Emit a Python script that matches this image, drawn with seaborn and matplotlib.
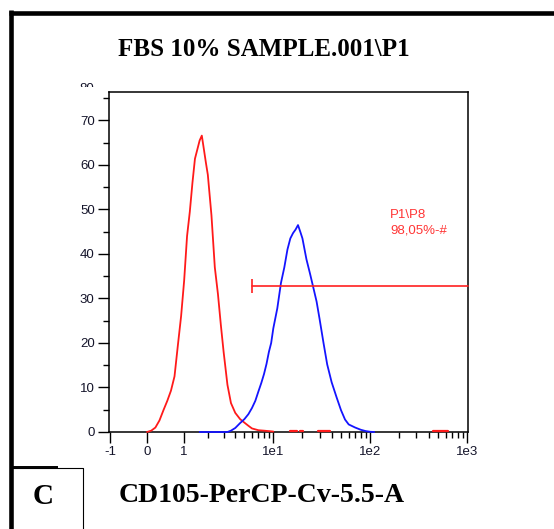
import matplotlib
matplotlib.use('Agg')
import matplotlib.pyplot as plt
import pandas as pd
import seaborn as sns
from matplotlib.lines import Line2D
from matplotlib.ticker import NullFormatter
from matplotlib.transforms import Bbox, TransformedBbox

# unstained control (red) and CD105 stained sample (blue), counts per channel
red_x = [0, 0.1, 0.2, 0.3, 0.4, 0.5, 0.6, 0.7, 0.8, 0.9, 1.0, 1.1, 1.2, 1.3, 1.4,
         1.5, 1.6, 1.7, 1.8, 1.9, 2.0, 2.2, 2.4, 2.6, 2.8, 3.0, 3.3, 3.6, 4.0, 4.5,
         5.0, 5.5, 6.0, 7.0, 8.0, 9.0, 10.0]
red_y = [0, 0.3, 1.0, 2.6, 4.9, 7.0, 9.3, 12.5, 19.5, 26.0, 34.0, 44.0, 49.5, 56.0, 61.4,
         63.5, 65.5, 66.6, 63.5, 60.5, 57.8, 48.7, 37.0, 31.0, 24.0, 18.0, 10.6, 6.5, 4.3, 2.9,
         2.1, 1.4, 0.8, 0.4, 0.3, 0.2, 0.1]

# isolated single events of the red sample far out on the axis
red_tail_x = [14.9, 17.6, 18.9, 20.3, 29.0, 38.5, 444, 634]
red_tail_y = [0.25, 0.25, 0.25, 0.25, 0.25, 0.25, 0.25, 0.25]
red_tail_seg = [0, 0, 1, 1, 2, 2, 3, 3]

blue_x = [1.6, 2.0, 2.6, 3.3, 3.6, 4.0, 4.5, 5.0, 5.5, 6.0, 6.5, 7.0, 7.5, 8.0, 8.5,
          9.0, 9.5, 10, 11, 12, 13, 14, 15, 16, 17, 18, 19, 20, 22, 24,
          26, 28, 30, 33, 36, 40, 45, 50, 55, 60, 70, 80, 90, 100, 110]
blue_y = [0, 0, 0, 0, 0.3, 0.9, 2.0, 2.9, 4.0, 5.4, 7.0, 9.1, 11.0, 13.0, 15.3,
          18.0, 20.0, 23.3, 27.8, 33.5, 37.0, 41.0, 43.5, 44.7, 45.5, 46.5, 45.0, 43.5, 38.8, 35.5,
          32.3, 29.3, 25.5, 20.0, 15.2, 11.2, 7.8, 4.9, 2.8, 1.7, 1.0, 0.5, 0.2, 0.05, 0]

gate_start = 6.0
gate_end = 1019
gate_level = 32.8
gate_label = 'P1\\P8\n98,05%-#'

x_ticks = [-1, 0, 1, 10, 100, 1000]
x_tick_labels = ['-1', '0', '1', '1e1', '1e2', '1e3']
x_minor = [2, 3, 4, 5, 6, 7, 8, 9, 20, 30, 40, 50, 60, 70, 80, 90,
           200, 300, 400, 500, 600, 700, 800, 900]
y_ticks = [0, 10, 20, 30, 40, 50, 60, 70]
y_minor = [5, 15, 25, 35, 45, 55, 65, 75]

title = 'FBS 10% SAMPLE.001\\P1'
xlabel = 'CD105-PerCP-Cv-5.5-A'
panel = 'C'

W, H = 554, 529


def fx(px):
    return px / W


def fy(py):
    return 1 - py / H


def frame_line(fig, xs, ys, lw):
    fig.add_artist(Line2D([fx(v) for v in xs], [fy(v) for v in ys], color='black', lw=lw,
                          solid_capstyle='butt', transform=fig.transFigure))


sns.set_style('ticks')
plt.rcParams['font.family'] = ['Liberation Sans', 'DejaVu Sans']

fig = plt.figure(figsize=(W / 100, H / 100), dpi=100)
ax = fig.add_axes([fx(109), fy(432), fx(468) - fx(109), fy(92) - fy(432)])
ax.set_xscale('asinh', linear_width=1.0)

red = pd.DataFrame({'x': red_x, 'y': red_y})
blue = pd.DataFrame({'x': blue_x, 'y': blue_y})
tail = pd.DataFrame({'x': red_tail_x, 'y': red_tail_y, 'seg': red_tail_seg})

sns.lineplot(data=red, x='x', y='y', color='#ff1a1a', lw=1.3,
             estimator=None, ax=ax, zorder=3, clip_on=False)
sns.lineplot(data=blue, x='x', y='y', color='#1414ff', lw=1.3,
             estimator=None, ax=ax, zorder=3, clip_on=False)
sns.lineplot(data=tail, x='x', y='y', units='seg', color='#ff1a1a', lw=1.6,
             estimator=None, ax=ax, zorder=3, legend=False, clip_on=False)

# gate marker
ax.plot([gate_start, gate_end], [gate_level, gate_level], color='#ff2020', lw=1.2,
        zorder=3, clip_on=False)
ax.plot([gate_start], [gate_level], marker='|', markersize=10, mew=1.2, color='#ff2020',
        zorder=3)
ax.text(160, 50.2, gate_label, color='#ff3535', fontsize=9.5, ha='left', va='top',
        linespacing=1.45)

ax.set_xlim(-1.03, 1019)
ax.set_ylim(0, 76.4)
ax.set_xticks(x_ticks, labels=x_tick_labels)
ax.set_xticks(x_minor, minor=True)
ax.xaxis.set_minor_formatter(NullFormatter())
ax.set_yticks(y_ticks)
ax.set_yticks(y_minor, minor=True)
ax.set_xlabel('')
ax.set_ylabel('')

for side in ['left', 'right', 'top', 'bottom']:
    ax.spines[side].set_visible(True)
    ax.spines[side].set_color('black')
    ax.spines[side].set_linewidth(1.1)
ax.tick_params(which='major', length=7.8, width=1.0, color='black', labelsize=9.5,
               labelcolor='#14142a', pad=2.5, direction='out')
ax.tick_params(which='minor', length=4.5, width=1.0, color='black', direction='out')

# "80" label half hidden at top of y axis
lab = fig.text(fx(94), fy(82.5), '80', ha='right', va='top', fontsize=9.5, color='#14142a')
lab.set_clip_box(TransformedBbox(Bbox([[fx(60), fy(87)], [fx(100), fy(75)]]),
                                 fig.transFigure))
lab.set_clip_on(True)

fig.text(fx(264), fy(50), title, ha='center', va='center', family='Liberation Serif',
         weight='bold', fontsize=18, color='black')
fig.text(fx(262), fy(496), xlabel, ha='center', va='center', family='Liberation Serif',
         weight='bold', fontsize=20, color='black')
fig.text(fx(43), fy(496), panel, ha='center', va='center', family='Liberation Serif',
         weight='bold', fontsize=21, color='black')

# page frame and panel box
frame_line(fig, [10.5, 10.5], [10, 529], 3.3)
frame_line(fig, [8.5, 554], [12.5, 12.5], 3.3)
frame_line(fig, [12, 58], [467, 467], 1.4)
frame_line(fig, [12, 82.5, 82.5], [468, 468, 529], 0.8)

fig.savefig('out.png', dpi=100)
plt.close(fig)
